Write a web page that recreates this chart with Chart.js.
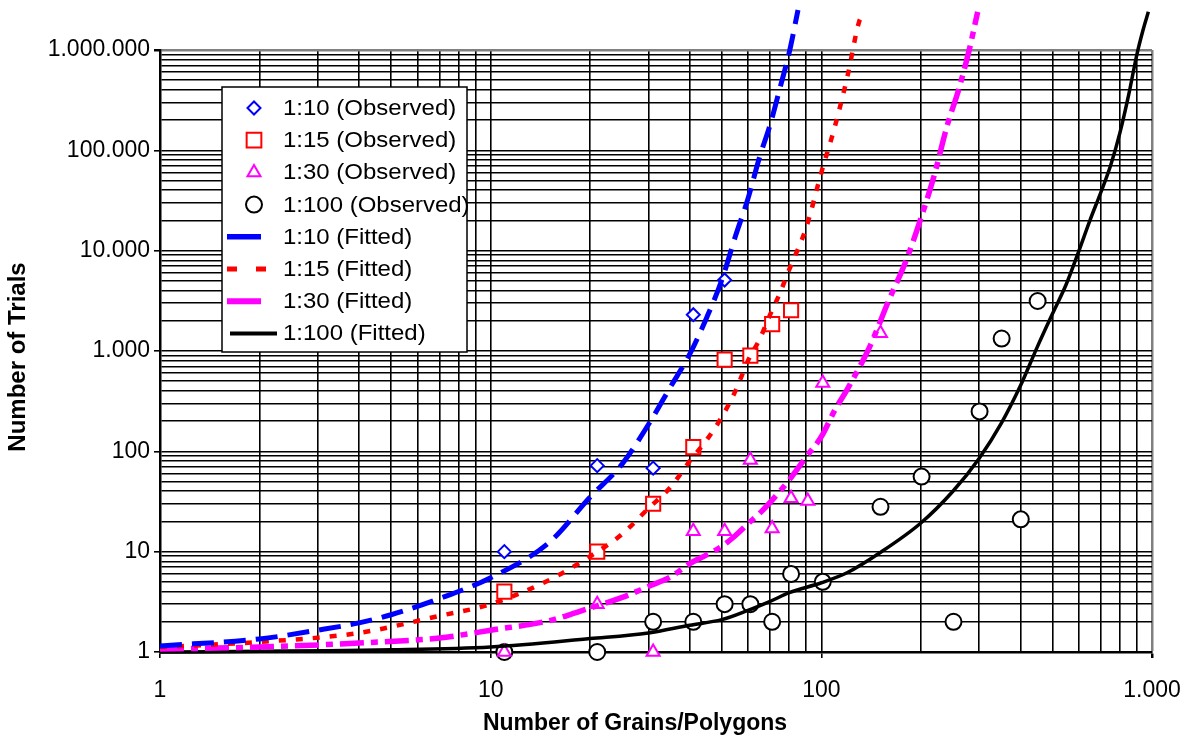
<!DOCTYPE html>
<html>
<head>
<meta charset="utf-8">
<title>Number of Trials vs Number of Grains/Polygons</title>
<script src="https://cdn.jsdelivr.net/npm/chart.js@4/dist/chart.umd.min.js"></script>
<style>
    html, body { margin: 0; padding: 0; background: #fff; }
    canvas { display: block; }
</style>
</head>
<body>
<canvas id="trialsChart" width="1194" height="740"></canvas>
<script>
// observed values (grains, trials)
const obs10Grains = [11, 21, 31, 41, 51];
const obs10Trials = [10, 72, 68, 2300, 5100];

const obs15Grains = [11, 21, 31, 41, 51, 61, 71, 81];
const obs15Trials = [4, 10, 30, 110, 820, 900, 1850, 2550];

const obs30Grains = [11, 21, 31, 41, 51, 61, 71, 81, 91, 101, 151];
const obs30Trials = [1, 3, 1, 16, 16, 82, 17, 34, 32, 480, 1500];

const obs100Grains = [11, 21, 31, 41, 51, 61, 71, 81, 101, 151, 201, 251, 301, 351, 401, 451];
const obs100Trials = [1, 1, 2, 2, 3, 3, 2, 6, 5, 28, 56, 2, 250, 1330, 21, 3150];

// fitted curves
const fit10Grains = [1, 2, 3, 4, 5, 7, 10, 15, 20, 25, 30, 35, 40, 45, 50, 55, 60, 65, 70, 75, 80, 85];
const fit10Trials = [1.15, 1.35, 1.65, 1.95, 2.35, 3.4, 5.5, 12.3, 35, 75, 185, 440, 930, 2150, 5100, 14000, 33000, 85000, 180000, 420000, 950000, 2500000];

const fit15Grains = [1, 2, 4, 7, 10, 15, 20, 25, 30, 35, 40, 45, 50, 55, 60, 65, 70, 75, 80, 90, 100, 110, 120, 130, 133];
const fit15Trials = [1.12, 1.26, 1.55, 2.29, 3.0, 5.2, 9, 15, 27, 44, 80, 130, 220, 400, 800, 1300, 2300, 3800, 6500, 17000, 60000, 175000, 550000, 1900000, 2200000];

const fit30Grains = [1, 2, 4, 7, 10, 15, 20, 25, 30, 35, 40, 45, 50, 55, 60, 65, 70, 80, 90, 100, 110, 120, 140, 160, 180, 200, 220, 240, 260, 280, 297];
const fit30Trials = [1.07, 1.12, 1.23, 1.38, 1.65, 2.05, 2.75, 3.5, 4.5, 5.6, 7.6, 9.3, 11.3, 14.5, 19, 24, 31, 52, 88, 140, 260, 420, 1100, 3200, 7800, 21000, 58000, 175000, 400000, 1000000, 2400000];

const fit100Grains = [1, 5, 10, 20, 30, 40, 50, 60, 70, 80, 100, 120, 150, 200, 250, 300, 350, 400, 450, 500, 550, 600, 650, 700, 750, 800, 850, 900, 940, 975];
const fit100Trials = [1.0, 1.05, 1.12, 1.36, 1.55, 1.85, 2.1, 2.6, 3.2, 3.9, 4.9, 6.2, 9.7, 19.3, 40, 85, 190, 450, 1100, 2350, 4600, 9800, 20300, 38000, 71000, 150000, 357000, 900000, 1590000, 2400000];

// axis ticks and titles
const xMajorTicks = [1, 10, 100, 1000];
const xTickLabels = ['1', '10', '100', '1.000'];
const yMajorTicks = [1, 10, 100, 1000, 10000, 100000, 1000000];
const yTickLabels = ['1', '10', '100', '1.000', '10.000', '100.000', '1.000.000'];
const xTitle = 'Number of Grains/Polygons';
const yTitle = 'Number of Trials';

const FONT = '"Liberation Sans", Arial, Helvetica, sans-serif';

function toPoints(xs, ys) {
    return xs.map((x, i) => ({ x: x, y: ys[i] }));
}

// 1..9 in every decade between the major ticks
function logTicks(majors) {
    const ticks = [];
    for (let i = 0; i < majors.length - 1; i++) {
        for (let m = 1; m <= 9; m++) {
            ticks.push({ value: m * majors[i], major: m === 1 });
        }
    }
    ticks.push({ value: majors[majors.length - 1], major: true });
    return ticks;
}

function majorIndex(value, majors) {
    return majors.findIndex(m => Math.abs(m - value) < 1e-9 * m);
}

function observed(label, xs, ys, color, style, radius, legendRadius) {
    return {
        label: label,
        data: toPoints(xs, ys),
        showLine: false,
        pointStyle: style,
        pointRadius: radius,
        pointHoverRadius: radius,
        pointBorderWidth: 2,
        pointBorderColor: color,
        pointBackgroundColor: '#fff',
        borderColor: color,
        backgroundColor: '#fff',
        clip: false,
        order: 2,
        legendRadius: legendRadius
    };
}

function fitted(label, xs, ys, color, width, dash, legendFrom, legendTo, legendDash) {
    return {
        label: label,
        data: toPoints(xs, ys),
        showLine: true,
        pointRadius: 0,
        pointHoverRadius: 0,
        borderColor: color,
        backgroundColor: color,
        borderWidth: width,
        borderDash: dash,
        cubicInterpolationMode: 'monotone',
        clip: false,
        order: 1,
        legendFrom: legendFrom,
        legendTo: legendTo,
        legendDash: legendDash
    };
}

function drawMarker(ctx, style, r, x, y) {
    ctx.beginPath();
    if (style === 'rectRot') {
        ctx.moveTo(x - r, y);
        ctx.lineTo(x, y - r);
        ctx.lineTo(x + r, y);
        ctx.lineTo(x, y + r);
        ctx.closePath();
    } else if (style === 'rect') {
        const s = r * Math.SQRT1_2;
        ctx.rect(x - s, y - s, 2 * s, 2 * s);
    } else if (style === 'triangle') {
        ctx.moveTo(x, y - r);
        ctx.lineTo(x + r * 0.866, y + r / 2);
        ctx.lineTo(x - r * 0.866, y + r / 2);
        ctx.closePath();
    } else {
        ctx.arc(x, y, r, 0, Math.PI * 2);
    }
    ctx.fill();
    ctx.stroke();
}

// axis titles, placed where the original has them
const axisTitles = {
    id: 'axisTitles',
    afterDraw(chart) {
        const ctx = chart.ctx;
        const area = chart.chartArea;
        ctx.save();
        ctx.fillStyle = '#000';
        ctx.font = 'bold 23px ' + FONT;
        ctx.textAlign = 'center';
        ctx.textBaseline = 'middle';
        ctx.fillText(xTitle, area.left + 475, chart.height - 16);
        ctx.translate(18, area.top + 307);
        ctx.rotate(-Math.PI / 2);
        ctx.font = 'bold 24px ' + FONT;
        ctx.fillText(yTitle, 0, 0);
        ctx.restore();
    }
};

// boxed legend sitting inside the plot, like the original
const boxLegend = {
    id: 'boxLegend',
    afterDraw(chart) {
        const ctx = chart.ctx;
        const area = chart.chartArea;
        const left = area.left + 62;
        const top = area.top + 37;
        const width = 245;
        const height = 265;
        const rowGap = 32.2;
        const firstRow = top + 21;

        ctx.save();
        ctx.fillStyle = '#fff';
        ctx.fillRect(left, top, width, height);
        ctx.strokeStyle = '#000';
        ctx.lineWidth = 1.5;
        ctx.strokeRect(left, top, width, height);

        chart.data.datasets.forEach((ds, i) => {
            const y = firstRow + i * rowGap;
            if (ds.showLine) {
                ctx.save();
                ctx.strokeStyle = ds.borderColor;
                ctx.lineWidth = ds.borderWidth + 0.5;
                ctx.lineCap = 'butt';
                ctx.setLineDash(ds.legendDash);
                ctx.beginPath();
                ctx.moveTo(left + ds.legendFrom, y);
                ctx.lineTo(left + ds.legendTo, y);
                ctx.stroke();
                ctx.restore();
            } else {
                ctx.fillStyle = '#fff';
                ctx.strokeStyle = ds.pointBorderColor;
                ctx.lineWidth = 2;
                drawMarker(ctx, ds.pointStyle, ds.legendRadius, left + 32, y);
            }
            ctx.save();
            ctx.fillStyle = '#000';
            ctx.font = '22px ' + FONT;
            ctx.textBaseline = 'middle';
            ctx.translate(left + 61, y + 1);
            ctx.scale(1.09, 1);
            ctx.fillText(ds.label, 0, 0);
            ctx.restore();
        });
        ctx.restore();
    }
};

const ctx = document.getElementById('trialsChart').getContext('2d');

new Chart(ctx, {
    type: 'scatter',
    data: {
        datasets: [
            observed('1:10 (Observed)', obs10Grains, obs10Trials, '#0000ff', 'rectRot', 6.5, 6.5),
            observed('1:15 (Observed)', obs15Grains, obs15Trials, '#ff0000', 'rect', 10, 10.4),
            observed('1:30 (Observed)', obs30Grains, obs30Trials, '#ff00ff', 'triangle', 7.5, 7.5),
            observed('1:100 (Observed)', obs100Grains, obs100Trials, '#000000', 'circle', 8, 8),
            fitted('1:10 (Fitted)', fit10Grains, fit10Trials, '#0000ff', 5, [22, 10], 5, 39, []),
            fitted('1:15 (Fitted)', fit15Grains, fit15Trials, '#ff0000', 4.5, [7, 10], 5, 45, [10, 19]),
            fitted('1:30 (Fitted)', fit30Grains, fit30Trials, '#ff00ff', 5.5, [24, 7, 7, 7], 5, 39, []),
            fitted('1:100 (Fitted)', fit100Grains, fit100Trials, '#000000', 3.5, [], 8, 55, [])
        ]
    },
    options: {
        responsive: false,
        animation: false,
        devicePixelRatio: 1,
        layout: {
            padding: { top: 50, right: 42, left: 0, bottom: 0 }
        },
        plugins: {
            legend: { display: false },
            tooltip: { enabled: false }
        },
        scales: {
            x: {
                type: 'logarithmic',
                min: 1,
                max: 1000,
                afterBuildTicks: scale => { scale.ticks = logTicks(xMajorTicks); },
                afterFit: scale => {
                    scale.height = 88;
                    scale.paddingLeft = 0;
                    scale.paddingRight = 0;
                },
                border: { color: '#000', width: 2.5 },
                grid: {
                    color: c => (c.tick && c.tick.value === 1000) ? '#808080' : '#000',
                    lineWidth: c => (c.tick && c.tick.value === 1000) ? 2.5 : 1.6,
                    tickLength: 6,
                    tickColor: c => (c.tick && majorIndex(c.tick.value, xMajorTicks) >= 0) ? '#000' : 'rgba(0,0,0,0)'
                },
                ticks: {
                    autoSkip: false,
                    maxRotation: 0,
                    padding: 19,
                    color: '#000',
                    font: { family: FONT, size: 23 },
                    callback: value => {
                        const i = majorIndex(value, xMajorTicks);
                        return i >= 0 ? xTickLabels[i] : '';
                    }
                }
            },
            y: {
                type: 'logarithmic',
                min: 1,
                max: 1000000,
                afterBuildTicks: scale => { scale.ticks = logTicks(yMajorTicks); },
                afterFit: scale => {
                    scale.width = 160;
                    scale.paddingTop = 0;
                    scale.paddingBottom = 0;
                },
                border: { color: '#000', width: 2.5 },
                grid: {
                    color: c => (c.tick && c.tick.value === 1000000) ? '#808080' : '#000',
                    lineWidth: c => (c.tick && c.tick.value === 1000000) ? 2.5 : 1.6,
                    tickLength: 6,
                    tickColor: c => (c.tick && majorIndex(c.tick.value, yMajorTicks) >= 0) ? '#000' : 'rgba(0,0,0,0)'
                },
                ticks: {
                    autoSkip: false,
                    padding: 4,
                    color: '#000',
                    font: { family: FONT, size: 23 },
                    callback: value => {
                        const i = majorIndex(value, yMajorTicks);
                        return i >= 0 ? yTickLabels[i] : '';
                    }
                }
            }
        }
    },
    plugins: [boxLegend, axisTitles]
});
</script>
</body>
</html>
